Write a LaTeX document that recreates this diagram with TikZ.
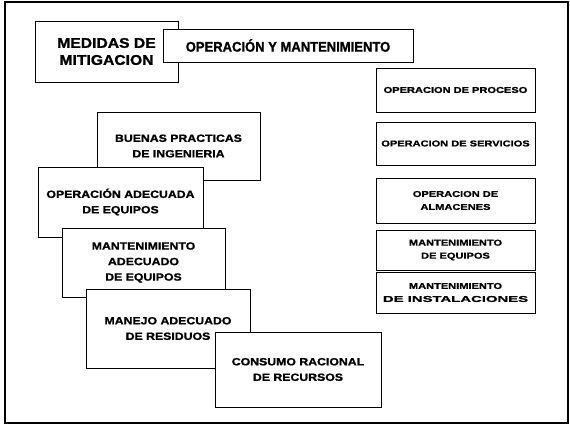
\documentclass[tikz,border=0pt]{standalone}
\usepackage{fontspec}
\setmainfont{Liberation Sans}
\newfontfamily\fbigA{Liberation Sans}[FakeStretch=1.12,FakeBold=1.2]
\newfontfamily\fbigB{Liberation Sans}[FakeStretch=0.93,FakeBold=1.2]
\newfontfamily\fmidd{Liberation Sans}[FakeStretch=1.17,FakeBold=1.2]
\newfontfamily\fsmal{Liberation Sans}[FakeStretch=1.3,FakeBold=1.2]
\newfontfamily\fsmwd{Liberation Sans}[FakeStretch=1.75,FakeBold=1.2]
\begin{document}
\begin{tikzpicture}[x=1pt,y=-1pt,
  box/.style={draw, line width=0.8pt, fill=white, inner sep=0pt, align=center},
  bigA/.style={font=\fontsize{14}{17}\selectfont\fbigA\bfseries},
  bigB/.style={font=\fontsize{14}{17}\selectfont\fbigB\bfseries},
  midt/.style={font=\fontsize{10.5}{15.5}\selectfont\fmidd\bfseries},
  smallt/.style={font=\fontsize{8.5}{13}\selectfont\fsmal\bfseries},
  leftbox/.style={box, midt},
  rightbox/.style={box, smallt, minimum width=159pt}]
\useasboundingbox (0,0) rectangle (570,426);
\draw[line width=1.5pt] (5,2) rectangle (568,423);
% header
\node[box, bigA, minimum width=143pt, minimum height=61pt] (medidas) at (106.5,51.5) {MEDIDAS DE\\MITIGACION};
\node[box, bigB, minimum width=250pt, minimum height=33pt] (opym) at (288,45.5) {OPERACIÓN Y MANTENIMIENTO};
% left chain
\node[leftbox, minimum width=163pt, minimum height=68pt] (buenas) at (178.5,146) {BUENAS PRACTICAS\\DE INGENIERIA};
\node[leftbox, minimum width=165pt, minimum height=70pt] (opadec) at (120.5,202) {OPERACIÓN ADECUADA\\DE EQUIPOS};
\node[leftbox, minimum width=163pt, minimum height=69pt] (mantadec) at (143.5,262.5) {MANTENIMIENTO\\ADECUADO\\DE EQUIPOS};
\node[leftbox, minimum width=164pt, minimum height=79pt] (manejo) at (168,328.5) {MANEJO ADECUADO\\DE RESIDUOS};
\node[leftbox, minimum width=166pt, minimum height=75pt] (consumo) at (298,369.5) {CONSUMO RACIONAL\\DE RECURSOS};
% right column
\node[rightbox, minimum height=44pt] (proceso) at (455.5,90) {OPERACION DE PROCESO};
\node[rightbox, minimum height=43pt] (servicios) at (455.5,143.5) {OPERACION DE SERVICIOS};
\node[rightbox, minimum height=45pt] (almacenes) at (455.5,200.5) {OPERACION DE\\ALMACENES};
\node[rightbox, minimum height=40pt] (manteq) at (455.5,250) {MANTENIMIENTO\\DE EQUIPOS};
\node[rightbox, minimum height=41pt] (mantinst) at (455.5,292.5) {MANTENIMIENTO\\{\fsmwd DE INSTALACIONES}};
\end{tikzpicture}
\end{document}
